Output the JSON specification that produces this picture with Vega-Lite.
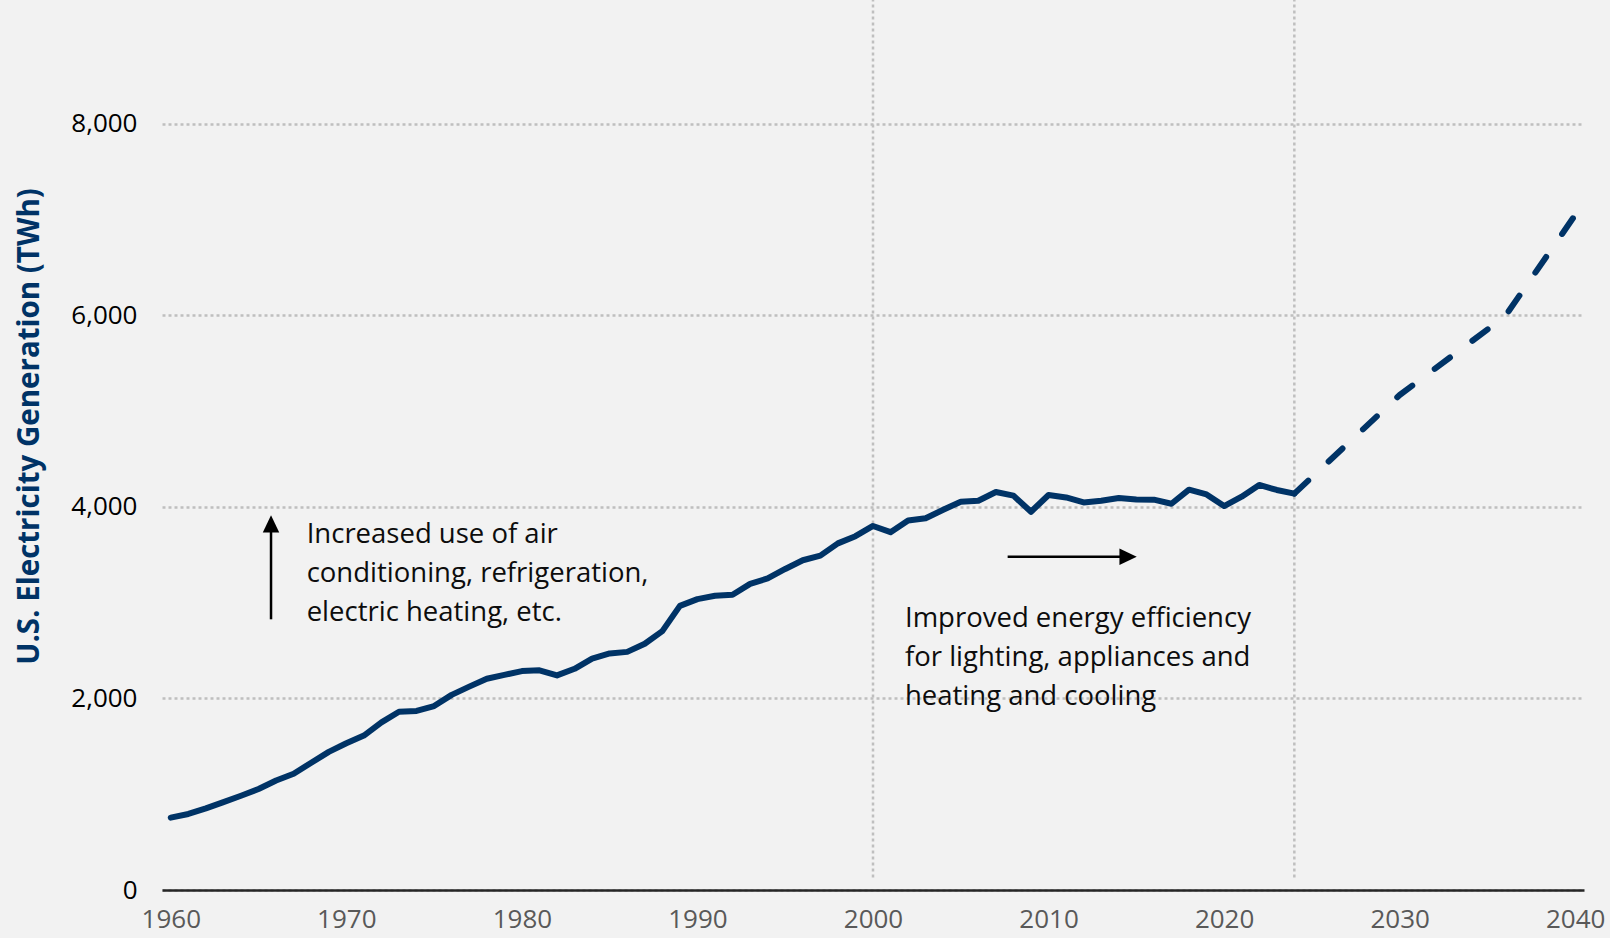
{
  "$schema": "https://vega.github.io/schema/vega-lite/v6.json",
  "width": 1422,
  "height": 890,
  "autosize": "none",
  "padding": {"left": 162, "top": 0, "right": 26, "bottom": 48},
  "background": "#f2f2f2",
  "config": {"view": {"stroke": null}, "font": "Open Sans"},
  "datasets": {
    "hist": [
      {"year": 1960, "twh": 756}, {"year": 1961, "twh": 794}, {"year": 1962, "twh": 852},
      {"year": 1963, "twh": 917}, {"year": 1964, "twh": 984}, {"year": 1965, "twh": 1055},
      {"year": 1966, "twh": 1144}, {"year": 1967, "twh": 1214}, {"year": 1968, "twh": 1329},
      {"year": 1969, "twh": 1442}, {"year": 1970, "twh": 1532}, {"year": 1971, "twh": 1613},
      {"year": 1972, "twh": 1750}, {"year": 1973, "twh": 1861}, {"year": 1974, "twh": 1870},
      {"year": 1975, "twh": 1921}, {"year": 1976, "twh": 2038}, {"year": 1977, "twh": 2124},
      {"year": 1978, "twh": 2206}, {"year": 1979, "twh": 2247}, {"year": 1980, "twh": 2286},
      {"year": 1981, "twh": 2295}, {"year": 1982, "twh": 2241}, {"year": 1983, "twh": 2310},
      {"year": 1984, "twh": 2416}, {"year": 1985, "twh": 2470}, {"year": 1986, "twh": 2487},
      {"year": 1987, "twh": 2572}, {"year": 1988, "twh": 2704}, {"year": 1989, "twh": 2967},
      {"year": 1990, "twh": 3038}, {"year": 1991, "twh": 3073}, {"year": 1992, "twh": 3084},
      {"year": 1993, "twh": 3197}, {"year": 1994, "twh": 3254}, {"year": 1995, "twh": 3353},
      {"year": 1996, "twh": 3444}, {"year": 1997, "twh": 3492}, {"year": 1998, "twh": 3620},
      {"year": 1999, "twh": 3695}, {"year": 2000, "twh": 3802}, {"year": 2001, "twh": 3737},
      {"year": 2002, "twh": 3858}, {"year": 2003, "twh": 3883}, {"year": 2004, "twh": 3971},
      {"year": 2005, "twh": 4055}, {"year": 2006, "twh": 4065}, {"year": 2007, "twh": 4157},
      {"year": 2008, "twh": 4119}, {"year": 2009, "twh": 3950}, {"year": 2010, "twh": 4125},
      {"year": 2011, "twh": 4100}, {"year": 2012, "twh": 4048}, {"year": 2013, "twh": 4066},
      {"year": 2014, "twh": 4094}, {"year": 2015, "twh": 4078}, {"year": 2016, "twh": 4077},
      {"year": 2017, "twh": 4034}, {"year": 2018, "twh": 4181}, {"year": 2019, "twh": 4131},
      {"year": 2020, "twh": 4010}, {"year": 2021, "twh": 4108}, {"year": 2022, "twh": 4230},
      {"year": 2023, "twh": 4178}, {"year": 2024, "twh": 4140}
    ],
    "proj": [
      {"year": 2024, "twh": 4140}, {"year": 2030, "twh": 5170},
      {"year": 2036, "twh": 5990}, {"year": 2040, "twh": 7050}
    ],
    "vlines": [{"year": 2000}, {"year": 2024}],
    "shafts": [
      {"x": 1965.71, "y": 2827, "x2": 1965.71, "y2": 3760},
      {"x": 2007.67, "y": 3481, "x2": 2014.2, "y2": 3481}
    ],
    "heads": [
      {"x": 1965.71, "y": 3823, "dir": "up"},
      {"x": 2014.53, "y": 3481, "dir": "right"}
    ],
    "notes": [
      {"x": 1967.74, "y": 3627, "label": "Increased use of air\nconditioning, refrigeration,\nelectric heating, etc."},
      {"x": 2001.82, "y": 2750, "label": "Improved energy efficiency\nfor lighting, appliances and\nheating and cooling"}
    ]
  },
  "layer": [
    {
      "data": {"name": "vlines"},
      "mark": {"type": "rule", "color": "#bfbfbf", "strokeWidth": 2.5, "strokeDash": [3, 3]},
      "encoding": {
        "x": {"field": "year", "type": "quantitative",
          "scale": {"domain": [1959.5, 2040.5], "nice": false, "zero": false},
          "axis": {
            "values": [1960, 1970, 1980, 1990, 2000, 2010, 2020, 2030, 2040],
            "format": "d", "title": null, "grid": false, "ticks": false,
            "domain": true, "domainColor": "#262626", "domainWidth": 2.5,
            "labelColor": "#595959", "labelFontSize": 26, "labelPadding": 16,
            "labelFlush": false, "labelOverlap": false, "labelFont": "Open Sans"
          }
        },
        "y": {"datum": 130, "type": "quantitative",
          "scale": {"domain": [0, 9295], "nice": false, "zero": true},
          "axis": {
            "values": [0, 2000, 4000, 6000, 8000],
            "format": ",d", "grid": true, "gridColor": "#bfbfbf", "gridWidth": 2.5,
            "gridDash": [3, 3], "ticks": false, "domain": false,
            "labelColor": "#000000", "labelFontSize": 26, "labelPadding": 25,
            "labelFont": "Open Sans",
            "title": "U.S. Electricity Generation (TWh)",
            "titleColor": "#003366", "titleFontSize": 29.5, "titleFontWeight": "bold",
            "titleFont": "Open Sans", "titleX": -133, "titleY": 426,
            "titleAngle": -90, "titleAlign": "center", "titleBaseline": "middle"
          }
        },
        "y2": {"datum": 9295}
      }
    },
    {
      "data": {"name": "hist"},
      "mark": {"type": "line", "color": "#003366", "strokeWidth": 6, "strokeCap": "round", "strokeJoin": "round"},
      "encoding": {
        "x": {"field": "year", "type": "quantitative"},
        "y": {"field": "twh", "type": "quantitative"}
      }
    },
    {
      "data": {"name": "proj"},
      "mark": {"type": "line", "color": "#003366", "strokeWidth": 6, "strokeCap": "round", "strokeJoin": "round", "strokeDash": [19, 28]},
      "encoding": {
        "x": {"field": "year", "type": "quantitative"},
        "y": {"field": "twh", "type": "quantitative"}
      }
    },
    {
      "data": {"name": "shafts"},
      "mark": {"type": "rule", "color": "#000000", "strokeWidth": 2.5},
      "encoding": {
        "x": {"field": "x", "type": "quantitative"},
        "y": {"field": "y", "type": "quantitative"},
        "x2": {"field": "x2"},
        "y2": {"field": "y2"}
      }
    },
    {
      "data": {"name": "heads"},
      "mark": {"type": "point", "filled": true, "color": "#000000", "opacity": 1, "size": 300},
      "encoding": {
        "x": {"field": "x", "type": "quantitative"},
        "y": {"field": "y", "type": "quantitative"},
        "shape": {"field": "dir", "type": "nominal",
          "scale": {"domain": ["up", "right"], "range": ["M-0.95,1L0.95,1L0,-1Z", "M-1,-0.95L-1,0.95L1,0Z"]},
          "legend": null}
      }
    },
    {
      "data": {"name": "notes"},
      "mark": {"type": "text", "align": "left", "baseline": "alphabetic", "fontSize": 27.5, "font": "Open Sans", "color": "#0d0d0d", "lineBreak": "\n", "lineHeight": 39},
      "encoding": {
        "x": {"field": "x", "type": "quantitative"},
        "y": {"field": "y", "type": "quantitative"},
        "text": {"field": "label"}
      }
    }
  ]
}
